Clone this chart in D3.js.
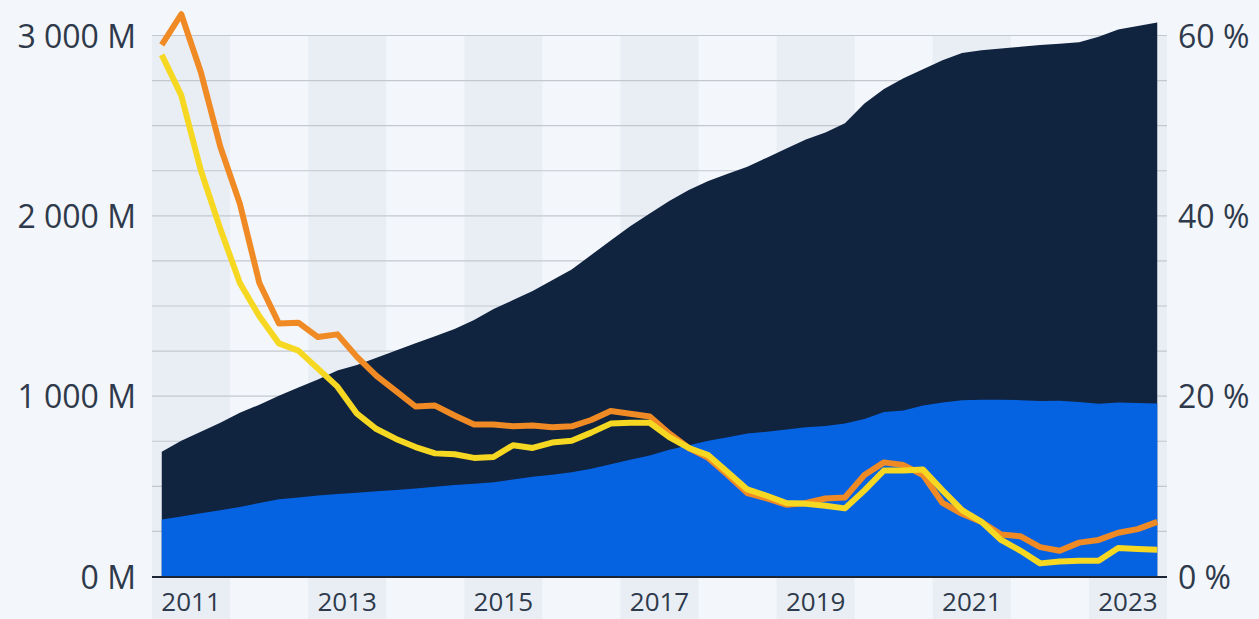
<!DOCTYPE html>
<html>
<head>
<meta charset="utf-8">
<script src="https://cdn.jsdelivr.net/npm/d3@7"></script>
<style>
  html, body { margin: 0; padding: 0; background: #f3f6fa; }
  svg { display: block; font-family: "Open Sans", "Noto Sans", sans-serif; }
  .tick-label { fill: #2e3a4b; }
</style>
</head>
<body>
<svg id="chart" width="1259" height="619"></svg>
<script>
// quarters Q1 2011 .. Q4 2023
const years = d3.range(2011, 2024);
const quarters = years.flatMap((y) => [1, 2, 3, 4].map((q) => `Q${q} ${y}`));

// users in millions (stacked: total height of dark area, light blue part)
const totalUsers = [
  689, 750, 800, 850, 905, 950, 1000, 1045, 1090, 1140, 1170, 1210, 1250,
  1290, 1330, 1370, 1420, 1480, 1530, 1580, 1640, 1700, 1780, 1860, 1940,
  2010, 2080, 2140, 2190, 2230, 2270, 2320, 2370, 2420, 2460, 2510, 2620,
  2700, 2760, 2810, 2860, 2900, 2915, 2925, 2935, 2945, 2952, 2960, 2990,
  3030, 3050, 3070
];
const blueUsers = [
  314, 330, 348, 365, 383, 405, 425, 435, 446, 455, 462, 470, 477, 485, 495,
  505, 512, 520, 535, 550, 562, 575, 595, 620, 645, 668, 700, 725, 750, 770,
  790, 800, 812, 825, 832, 845, 870, 910, 918, 945, 962, 975, 978, 978, 975,
  970, 972, 965, 955, 962, 960, 956
];

// growth rates in percent (right axis)
const orangeRate = [
  58.9, 62.3, 55.9, 47.6, 41.3, 32.5, 28.0, 28.1, 26.5, 26.8, 24.3, 22.2,
  20.5, 18.8, 18.9, 17.8, 16.8, 16.8, 16.6, 16.7, 16.5, 16.6, 17.3, 18.3,
  18.0, 17.7, 15.8, 14.2, 13.1, 11.2, 9.2, 8.6, 7.9, 8.1, 8.6, 8.7, 11.2,
  12.6, 12.3, 11.2, 8.1, 6.9, 6.0, 4.6, 4.4, 3.2, 2.8, 3.7, 4.0, 4.8, 5.2, 6.0
];
const yellowRate = [
  57.8, 53.3, 45.0, 38.5, 32.5, 28.8, 25.8, 25.0, 23.0, 21.0, 18.0, 16.3,
  15.2, 14.3, 13.6, 13.5, 13.1, 13.2, 14.5, 14.2, 14.8, 15.0, 15.9, 16.9,
  17.0, 17.0, 15.4, 14.2, 13.4, 11.5, 9.6, 8.9, 8.1, 8.0, 7.8, 7.5, 9.5,
  11.7, 11.7, 11.8, 9.5, 7.3, 6.0, 4.0, 2.8, 1.4, 1.6, 1.7, 1.7, 3.1, 3.0, 2.9
];

const leftTicks = [0, 1000, 2000, 3000];
const rightTicks = [0, 20, 40, 60];
const yearLabels = [2011, 2013, 2015, 2017, 2019, 2021, 2023];

const svg = d3.select("#chart");
const plotLeft = 152, plotRight = 1167, plotTop = 35, plotBottom = 576;

const x = d3.scaleBand().domain(quarters).range([plotLeft, plotRight]);
const cx = (q) => x(q) + x.bandwidth() / 2;
const yUsers = d3.scaleLinear().domain([0, 3000]).range([plotBottom, plotTop]);
const yRate = d3.scaleLinear().domain([0, 60]).range([plotBottom, plotTop]);

// shaded bands for odd years
svg.append("g")
  .selectAll("rect")
  .data(years.filter((y) => y % 2 === 1))
  .join("rect")
  .attr("x", (y) => x(`Q1 ${y}`))
  .attr("width", (y) => x(`Q4 ${y}`) + x.bandwidth() - x(`Q1 ${y}`))
  .attr("y", plotTop)
  .attr("height", 619 - plotTop)
  .attr("fill", "#e9eef5");

// gridlines every 250 M
svg.append("g")
  .selectAll("line")
  .data(d3.range(250, 3001, 250))
  .join("line")
  .attr("x1", plotLeft)
  .attr("x2", plotRight)
  .attr("y1", (d) => yUsers(d) + 0.5)
  .attr("y2", (d) => yUsers(d) + 0.5)
  .attr("stroke", "#c3c8d0")
  .attr("stroke-width", 1.2);

const rows = quarters.map((q, i) => ({
  q,
  total: totalUsers[i],
  blue: blueUsers[i],
  orange: orangeRate[i],
  yellow: yellowRate[i]
}));

// dark area (total)
svg.append("path")
  .datum(rows)
  .attr("fill", "#10233f")
  .attr("d", d3.area()
    .x((d) => cx(d.q))
    .y0(plotBottom)
    .y1((d) => yUsers(d.total)));

// blue area
svg.append("path")
  .datum(rows)
  .attr("fill", "#0563e2")
  .attr("d", d3.area()
    .x((d) => cx(d.q))
    .y0(plotBottom)
    .y1((d) => yUsers(d.blue)));

// base axis line
svg.append("line")
  .attr("x1", plotLeft)
  .attr("x2", plotRight)
  .attr("y1", plotBottom + 1)
  .attr("y2", plotBottom + 1)
  .attr("stroke", "#1c2534")
  .attr("stroke-width", 2);

// rate lines
const rateLine = (key) => d3.line()
  .x((d) => cx(d.q))
  .y((d) => yRate(d[key]));

svg.append("path")
  .datum(rows)
  .attr("fill", "none")
  .attr("stroke", "#f08a24")
  .attr("stroke-width", 6)
  .attr("stroke-linejoin", "round")
  .attr("d", rateLine("orange"));

svg.append("path")
  .datum(rows)
  .attr("fill", "none")
  .attr("stroke", "#f6d823")
  .attr("stroke-width", 6)
  .attr("stroke-linejoin", "round")
  .attr("d", rateLine("yellow"));

// left axis labels
svg.append("g")
  .selectAll("text")
  .data(leftTicks)
  .join("text")
  .attr("class", "tick-label")
  .attr("x", 136)
  .attr("y", (d) => yUsers(d))
  .attr("dy", "0.4em")
  .attr("text-anchor", "end")
  .attr("font-size", 32)
  .text((d) => d3.format(",")(d).replace(",", " ") + " M");

// right axis labels
svg.append("g")
  .selectAll("text")
  .data(rightTicks)
  .join("text")
  .attr("class", "tick-label")
  .attr("x", 1178)
  .attr("y", (d) => yRate(d))
  .attr("dy", "0.4em")
  .attr("text-anchor", "start")
  .attr("font-size", 32)
  .text((d) => `${d} %`);

// year labels
svg.append("g")
  .selectAll("text")
  .data(yearLabels)
  .join("text")
  .attr("class", "tick-label")
  .attr("x", (y) => (x(`Q2 ${y}`) + x(`Q3 ${y}`) + x.bandwidth()) / 2)
  .attr("y", 611)
  .attr("text-anchor", "middle")
  .attr("font-size", 26)
  .text((y) => y);
</script>
</body>
</html>
